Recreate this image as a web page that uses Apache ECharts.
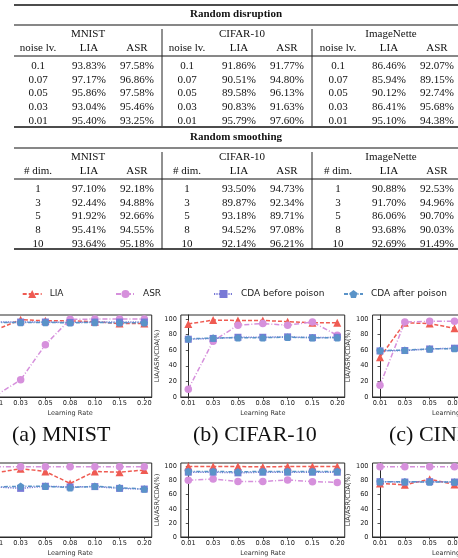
<!DOCTYPE html>
<html>
<head>
<meta charset="utf-8">
<script src="https://cdn.jsdelivr.net/npm/echarts@6/dist/echarts.min.js"></script>
<style>
  html, body { margin: 0; padding: 0; background: #fff; overflow: hidden; width: 458px; height: 558px; }
  /* the canvas is wider than the page so the outer panels can run past its edges */
  #chart { position: absolute; left: -40px; top: 0; width: 620px; height: 558px; }
</style>
</head>
<body>
<div id="chart"></div>
<script>
// ---------- Table: random disruption ----------
const datasetNames = ['MNIST', 'CIFAR-10', 'ImageNette'];
const noiseLevels = ['0.1', '0.07', '0.05', '0.03', '0.01'];
const disruptMnistLIA = [93.83, 97.17, 95.86, 93.04, 95.40];
const disruptMnistASR = [97.58, 96.86, 97.58, 95.46, 93.25];
const disruptCifarLIA = [91.86, 90.51, 89.58, 90.83, 95.79];
const disruptCifarASR = [91.77, 94.80, 96.13, 91.63, 97.60];
const disruptImgLIA = [86.46, 85.94, 90.12, 86.41, 95.10];
const disruptImgASR = [92.07, 89.15, 92.74, 95.68, 94.38];

// ---------- Table: random smoothing ----------
const smoothDims = ['1', '3', '5', '8', '10'];
const smoothMnistLIA = [97.10, 92.44, 91.92, 95.41, 93.64];
const smoothMnistASR = [92.18, 94.88, 92.66, 94.55, 95.18];
const smoothCifarLIA = [93.50, 89.87, 93.18, 94.52, 92.14];
const smoothCifarASR = [94.73, 92.34, 89.71, 97.08, 96.21];
const smoothImgLIA = [90.88, 91.70, 86.06, 93.68, 92.69];
const smoothImgASR = [92.53, 94.96, 90.70, 90.03, 91.49];

// ---------- Line charts: learning-rate sweep ----------
const lrLabels = ['0.01', '0.03', '0.05', '0.08', '0.10', '0.15', '0.20'];
const yTicks = [0, 20, 40, 60, 80, 100];
const seriesNames = ['LIA', 'ASR', 'CDA before poison', 'CDA after poison'];
const captions = ['(a) MNIST', '(b) CIFAR-10', '(c) CINIC-10'];

const topMnistLIA    = [86, 99, 97.5, 97.5, 96.5, 94, 94];
const topMnistASR    = [2, 22, 67, 99.5, 99.8, 99.8, 99.8];
const topMnistBefore = [96, 96, 96, 95.5, 96, 96, 96];
const topMnistAfter  = [95.5, 95.5, 95.5, 95, 95.5, 95, 95];

const topCifarLIA    = [93.5, 98.5, 98, 98, 96.5, 95, 95];
const topCifarASR    = [10, 71.5, 92, 94, 92, 96, 79];
const topCifarBefore = [74, 75, 76.5, 76.5, 77, 76, 76.5];
const topCifarAfter  = [74.5, 75.5, 76, 76, 76.5, 76, 76];

const topCinicLIA    = [51, 95, 94, 88, 89, 90, 90];
const topCinicASR    = [15, 96, 97, 97, 97, 97, 97];
const topCinicBefore = [59, 59.5, 61.5, 62.5, 62, 62, 62];
const topCinicAfter  = [59.5, 60, 61.5, 62, 62, 62, 62];

const botMnistLIA    = [91, 97, 93, 76, 93, 92, 95];
const botMnistASR    = [99.8, 99.8, 99.8, 99.8, 99.8, 99.8, 99.8];
const botMnistBefore = [71, 69, 72, 71, 71.5, 69, 68];
const botMnistAfter  = [71, 72, 72, 70, 72, 70, 68];

const botCifarLIA    = [100, 100, 100, 99.5, 100, 100, 100];
const botCifarASR    = [80.5, 82.3, 78.8, 78.8, 81, 78.5, 77.5];
const botCifarBefore = [92, 92, 91, 92, 92, 92, 92];
const botCifarAfter  = [93, 93, 92.5, 93, 93, 93, 93];

const botCinicLIA    = [76, 74, 82, 74.5, 76, 76, 76];
const botCinicASR    = [99.8, 99.8, 99.8, 99.8, 99.8, 99.8, 99.8];
const botCinicBefore = [78.5, 78, 78.5, 78, 78, 78, 78];
const botCinicAfter  = [78.5, 78.5, 78, 78, 78, 78, 78];

const panels = [
  [topMnistLIA, topMnistASR, topMnistBefore, topMnistAfter],
  [topCifarLIA, topCifarASR, topCifarBefore, topCifarAfter],
  [topCinicLIA, topCinicASR, topCinicBefore, topCinicAfter],
  [botMnistLIA, botMnistASR, botMnistBefore, botMnistAfter],
  [botCifarLIA, botCifarASR, botCifarBefore, botCifarAfter],
  [botCinicLIA, botCinicASR, botCinicBefore, botCinicAfter]
];

// ---------- styling ----------
const OX = 40; // horizontal offset of the page inside the wider canvas
const SERIF = '"Liberation Serif", "DejaVu Serif", serif';
const SANS = '"DejaVu Sans", sans-serif';
const colors = ['#ef5b52', '#d690dc', '#7879d6', '#5a93c8'];
const dashes = [[4, 2], [5, 2, 1, 2], [1.2, 1.2], [4, 1.5, 1, 1.5]];
const pentagon = 'path://M0,-10L9.51,-3.09L5.88,8.09L-5.88,8.09L-9.51,-3.09Z';
const symbols = ['triangle', 'circle', 'rect', pentagon];
const symbolSizes = [8, 7.5, 7, 7.5];

// ---------- table drawing ----------
const graphics = [];
const tableLeft = 14, tableRight = 458;
const colX = [38, 89, 137, 187, 239, 287, 338, 389, 437];
const groupX = [88, 242, 391];
const sepX = [162, 312];

function hline(y, w, c) {
  graphics.push({ type: 'line', shape: { x1: tableLeft + OX, y1: y, x2: tableRight + OX, y2: y },
    style: { stroke: c || '#111', lineWidth: w } });
}
function vline(x, y1, y2) {
  graphics.push({ type: 'line', shape: { x1: x + OX, y1: y1, x2: x + OX, y2: y2 },
    style: { stroke: '#222', lineWidth: 1 } });
}
function txt(s, x, y, opts) {
  opts = opts || {};
  graphics.push({ type: 'text', x: x + OX, y: y, style: {
    text: s, textAlign: opts.align || 'center', textVerticalAlign: 'middle',
    font: (opts.weight || 'normal') + ' ' + (opts.size || 11) + 'px ' + SERIF,
    fill: opts.color || '#111' } });
}
function pct(v) { return v.toFixed(2) + '%'; }

function drawBlock(top, title, keyLabel, keys, cols) {
  txt(title, (tableLeft + tableRight) / 2, top + 9, { weight: 'bold' });
  hline(top + 20, 1.2);
  datasetNames.forEach((n, i) => txt(n, groupX[i], top + 29));
  for (let g = 0; g < 3; g++) {
    txt(keyLabel, colX[g * 3], top + 43);
    txt('LIA', colX[g * 3 + 1], top + 43);
    txt('ASR', colX[g * 3 + 2], top + 43);
  }
  hline(top + 51, 1);
  keys.forEach((k, r) => {
    const y = top + 61 + r * 13.7;
    for (let g = 0; g < 3; g++) {
      txt(k, colX[g * 3], y);
      txt(pct(cols[g * 2][r]), colX[g * 3 + 1], y);
      txt(pct(cols[g * 2 + 1][r]), colX[g * 3 + 2], y);
    }
  });
  sepX.forEach(x => vline(x, top + 24, top + 121));
}

hline(5, 1.4);
drawBlock(5, 'Random disruption', 'noise lv.', noiseLevels,
  [disruptMnistLIA, disruptMnistASR, disruptCifarLIA, disruptCifarASR, disruptImgLIA, disruptImgASR]);
hline(127, 1.4);
drawBlock(128, 'Random smoothing', '# dim.', smoothDims,
  [smoothMnistLIA, smoothMnistASR, smoothCifarLIA, smoothCifarASR, smoothImgLIA, smoothImgASR]);
hline(249, 1.4);

// sub-figure captions
const captionX = [12, 193, 389];
captions.forEach((c, i) => txt(c, captionX[i], 435, { align: 'left', size: 22, color: '#111' }));

// ---------- grids, axes, series ----------
const pointStep = 24.83;
const gridWidth = 6.6 * pointStep;
const firstPointX = [-4.7, 188.3, 380];
const rowTop = [315, 463];
const plotH = 82;

const grids = [], xAxes = [], yAxes = [], series = [];
panels.forEach((panel, p) => {
  const col = p % 3, row = Math.floor(p / 3);
  grids.push({
    left: OX + firstPointX[col] - 0.3 * pointStep, top: rowTop[row],
    width: gridWidth, height: plotH,
    show: true, borderColor: '#2a2a2a', borderWidth: 1, containLabel: false
  });
  xAxes.push({
    gridIndex: p, type: 'value', min: -0.3, max: 6.3,
    name: 'Learning Rate', nameLocation: 'middle', nameGap: 13,
    nameTextStyle: { fontFamily: SANS, fontSize: 6.5, color: '#333' },
    axisLine: { show: true, lineStyle: { color: '#2a2a2a', width: 1 } },
    axisTick: { show: true, length: 2.5, customValues: [0, 1, 2, 3, 4, 5, 6], lineStyle: { color: '#2a2a2a', width: 0.8 } },
    axisLabel: { customValues: [0, 1, 2, 3, 4, 5, 6], formatter: v => lrLabels[Math.round(v)],
      fontFamily: SANS, fontSize: 6.6, color: '#222', margin: 3 },
    splitLine: { show: false }
  });
  yAxes.push({
    gridIndex: p, type: 'value', min: 0, max: 105,
    name: 'LIA/ASR/CDA(%)', nameLocation: 'middle', nameGap: 18,
    nameTextStyle: { fontFamily: SANS, fontSize: 6.5, color: '#333' },
    axisLine: { show: true, lineStyle: { color: '#2a2a2a', width: 1 } },
    axisTick: { show: true, length: 2.5, customValues: yTicks, lineStyle: { color: '#2a2a2a', width: 0.8 } },
    axisLabel: { customValues: yTicks, fontFamily: SANS, fontSize: 6.6, color: '#222', margin: 4 },
    splitLine: { show: false }
  });
  panel.forEach((vals, s) => {
    series.push({
      type: 'line', name: seriesNames[s], xAxisIndex: p, yAxisIndex: p,
      data: vals.map((v, i) => [i, v]),
      symbol: symbols[s], symbolSize: symbolSizes[s], showAllSymbol: true,
      itemStyle: { color: colors[s] },
      lineStyle: { color: colors[s], width: 1.5, type: dashes[s] },
      animation: false, z: 2 + s
    });
  });
});

const legendX = [21.7, 115, 213, 343];
const legends = seriesNames.map((n, i) => ({
  data: [n], left: OX + legendX[i], top: 289.5, orient: 'horizontal',
  itemWidth: 19, itemHeight: 10, itemGap: 0, padding: 0,
  textStyle: { fontFamily: SANS, fontSize: 9, color: '#222', padding: [0, 0, 0, 3] },
  selectedMode: false
}));

const chart = echarts.init(document.getElementById('chart'), null, { renderer: 'canvas' });
chart.setOption({
  animation: false,
  backgroundColor: '#fff',
  grid: grids, xAxis: xAxes, yAxis: yAxes, series: series,
  legend: legends,
  graphic: { elements: graphics }
});
</script>
</body>
</html>
